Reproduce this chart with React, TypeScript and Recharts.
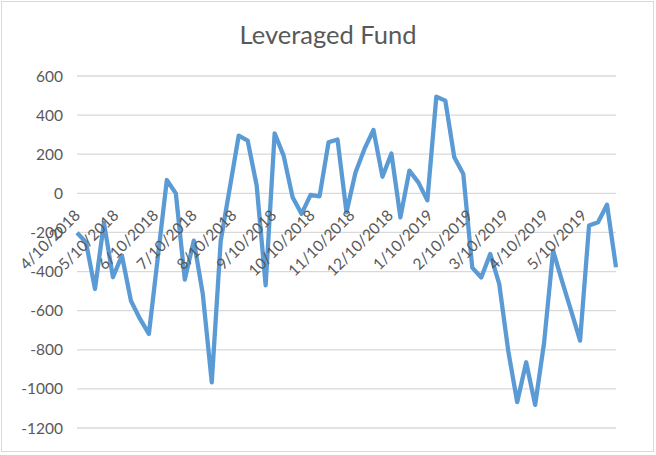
import React from 'react';
import { LineChart, Line, XAxis, YAxis, CartesianGrid } from 'recharts';

// weekly report dates
const weeks = [
  '2018-04-10', '2018-04-17', '2018-04-24', '2018-05-01', '2018-05-08', '2018-05-15', '2018-05-22', '2018-05-29',
  '2018-06-05', '2018-06-12', '2018-06-19', '2018-06-26', '2018-07-03', '2018-07-10', '2018-07-17', '2018-07-24',
  '2018-07-31', '2018-08-07', '2018-08-14', '2018-08-21', '2018-08-28', '2018-09-04', '2018-09-11', '2018-09-18',
  '2018-09-25', '2018-10-02', '2018-10-09', '2018-10-16', '2018-10-23', '2018-10-30', '2018-11-06', '2018-11-13',
  '2018-11-20', '2018-11-27', '2018-12-04', '2018-12-11', '2018-12-18', '2018-12-25', '2019-01-01', '2019-01-08',
  '2019-01-15', '2019-01-22', '2019-01-29', '2019-02-05', '2019-02-12', '2019-02-19', '2019-02-26', '2019-03-05',
  '2019-03-12', '2019-03-19', '2019-03-26', '2019-04-02', '2019-04-09', '2019-04-16', '2019-04-23', '2019-04-30',
  '2019-05-07', '2019-05-14', '2019-05-21', '2019-05-28', '2019-06-04',
];

const leveraged = [
  -202, -250, -489, -151, -429, -318, -549, -641,
  -719, -325, 68, 0, -441, -242, -514, -966,
  -242, 25, 295, 269, 40, -470, 307, 193,
  -20, -105, -8, -15, 261, 275, -97, 107,
  227, 324, 85, 204, -123, 116, 56, -36,
  494, 474, 184, 99, -380, -430, -310, -463,
  -804, -1068, -864, -1082, -762, -293, -450, -600,
  -753, -165, -148, -58, -378,
];

const monthTicks = [
  '2018-04-10', '2018-05-10', '2018-06-10', '2018-07-10', '2018-08-10', '2018-09-10', '2018-10-10',
  '2018-11-10', '2018-12-10', '2019-01-10', '2019-02-10', '2019-03-10', '2019-04-10', '2019-05-10',
];

const yTicks = [-1200, -1000, -800, -600, -400, -200, 0, 200, 400, 600];

const DAY = 86400000;
const start = Date.parse(weeks[0]);
const toDay = (s: string) => Math.round((Date.parse(s) - start) / DAY);
const fmtDay = (d: number) => {
  const dt = new Date(start + d * DAY);
  return `${dt.getUTCMonth() + 1}/${dt.getUTCDate()}/${dt.getUTCFullYear()}`;
};

const data = weeks.map((w, i) => ({ day: toDay(w), value: leveraged[i] }));

const W = 656;
const H = 455;
const PLOT_TOP = 76;
const PLOT_BOTTOM = 428;
const Y_MIN = -1200;
const Y_MAX = 600;
const FONT = 'Lato, "Open Sans", sans-serif';
const TEXT = '#595959';

// Excel draws the date labels under the zero line, not at the bottom
const DateTick = (props: any) => {
  const { x, payload } = props;
  const y0 = PLOT_TOP + ((PLOT_BOTTOM - PLOT_TOP) * Y_MAX) / (Y_MAX - Y_MIN);
  const ax = x + 4;
  const ay = y0 + 23;
  return (
    <text
      x={ax}
      y={ay}
      textAnchor="end"
      fill={TEXT}
      fontSize={15.5}
      fontFamily={FONT}
      transform={`rotate(-45 ${ax} ${ay})`}
    >
      {fmtDay(payload.value)}
    </text>
  );
};

export default function App() {
  return (
    <div style={{ position: 'absolute', left: 0, top: 0, width: W, height: H, background: '#fff' }}>
      <div
        style={{
          position: 'absolute',
          left: 1,
          top: 1,
          width: W - 3,
          height: H - 4,
          border: '1px solid #d9d9d9',
          boxSizing: 'border-box',
        }}
      />
      <div
        style={{
          position: 'absolute',
          left: 0,
          top: 19,
          width: W,
          textAlign: 'center',
          fontFamily: FONT,
          fontSize: 25.5,
          color: TEXT,
        }}
      >
        Leveraged Fund
      </div>
      <div style={{ position: 'absolute', left: 0, top: 0 }}>
        <LineChart width={W} height={H} data={data} margin={{ top: PLOT_TOP, right: 40, bottom: H - PLOT_BOTTOM - 1, left: 0 }}>
          <CartesianGrid vertical={false} stroke="#d9d9d9" strokeWidth={1.3} />
          <XAxis
            dataKey="day"
            type="number"
            domain={[0, toDay('2019-06-04')]}
            ticks={monthTicks.map(toDay)}
            tick={<DateTick />}
            tickLine={false}
            axisLine={false}
            height={1}
            interval={0}
          />
          <YAxis
            domain={[Y_MIN, Y_MAX]}
            ticks={yTicks}
            width={77}
            tickLine={false}
            axisLine={false}
            tickMargin={8}
            interval={0}
            tick={{ fill: TEXT, fontSize: 15.5, fontFamily: FONT }}
          />
          <Line
            type="linear"
            dataKey="value"
            stroke="#5b9bd5"
            strokeWidth={4.3}
            strokeLinejoin="round"
            dot={false}
            isAnimationActive={false}
          />
        </LineChart>
      </div>
    </div>
  );
}
